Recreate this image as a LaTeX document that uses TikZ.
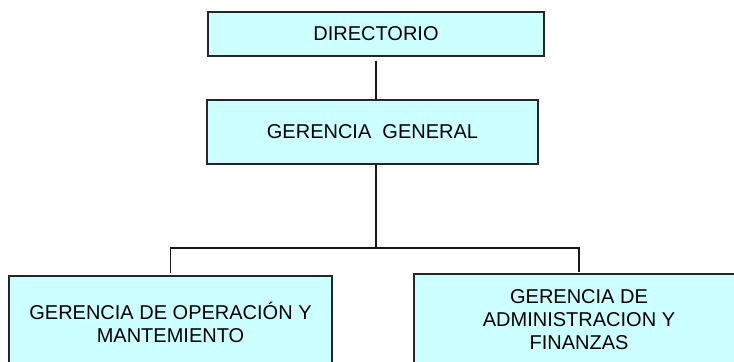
\documentclass[tikz,border=0pt]{standalone}
\usepackage{fontspec}
\setmainfont{Liberation Sans}
\definecolor{boxfill}{HTML}{CCFFFF}
\begin{document}
\begin{tikzpicture}[x=0.75pt,y=-0.75pt,
  orgbox/.style={draw=black!85,line width=1.1pt,fill=boxfill,inner sep=0pt,
    align=center,font=\fontsize{15}{17.2}\selectfont,text=black},
  conn/.style={draw=black!90,line width=1.1pt}]
\useasboundingbox (0,0) rectangle (734,361);
\clip (0,0) rectangle (734,361);
\node[orgbox,minimum width=336*0.75pt,minimum height=44*0.75pt] (dir) at (376,34) {DIRECTORIO};
\node[orgbox,minimum width=331*0.75pt,minimum height=64*0.75pt] (gg) at (372.5,132) {GERENCIA\ \ GENERAL};
\node[orgbox,minimum width=323*0.75pt,minimum height=92*0.75pt] (gom) at (170.5,322) {GERENCIA DE OPERACIÓN Y\\MANTEMIENTO};
\node[orgbox,minimum width=330*0.75pt,minimum height=91*0.75pt] (gaf) at (579,319.5) {GERENCIA DE\\ADMINISTRACION Y\\FINANZAS};
\coordinate (bar) at (376,248);
\draw[conn,shorten <=3pt] (dir.south -| 376,0) -- (gg.north -| 376,0);
\draw[conn] (gg.south -| 376,0) -- (bar);
\draw[conn,shorten >=2pt] (bar) -| (gom.north);
\draw[conn,shorten >=1pt] (bar) -| (gaf.north);
\end{tikzpicture}
\end{document}
